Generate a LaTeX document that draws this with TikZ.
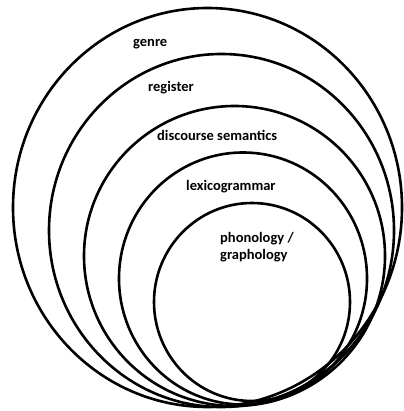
\documentclass[tikz,border=0pt]{standalone}
\usepackage{fontspec}
\setmainfont{Carlito}
\begin{document}
\begin{tikzpicture}[x=1pt,y=-1pt,
  ring/.style={draw=black,line width=2.6pt},
  lab/.style={anchor=base west,inner sep=0pt,font=\fontsize{14.5}{16.5}\selectfont\bfseries}]
\useasboundingbox (0,0) rectangle (403,411);
% rings (outer to inner)
\draw[ring] (207.5,207.5) ellipse [x radius=194.5pt, y radius=199.5pt];
\draw[ring] (221.5,230.5) ellipse [x radius=172.5pt, y radius=176.5pt];
\draw[ring] (234.5,256) ellipse [x radius=150.5pt, y radius=150pt];
\draw[ring] (243,278.5) ellipse [x radius=124pt, y radius=126pt];
\draw[ring] (252,302) ellipse [x radius=98pt, y radius=99pt];
% labels
\node[lab] (genre) at (133,47) {genre};
\node[lab] (register) at (148,92) {register};
\node[lab] (disc) at (157,141) {discourse semantics};
\node[lab] (lexico) at (186,191) {lexicogrammar};
\node[lab] (phon) at (220,242) {phonology /};
\node[lab] (graph) at (220,259) {graphology};
\end{tikzpicture}
\end{document}
